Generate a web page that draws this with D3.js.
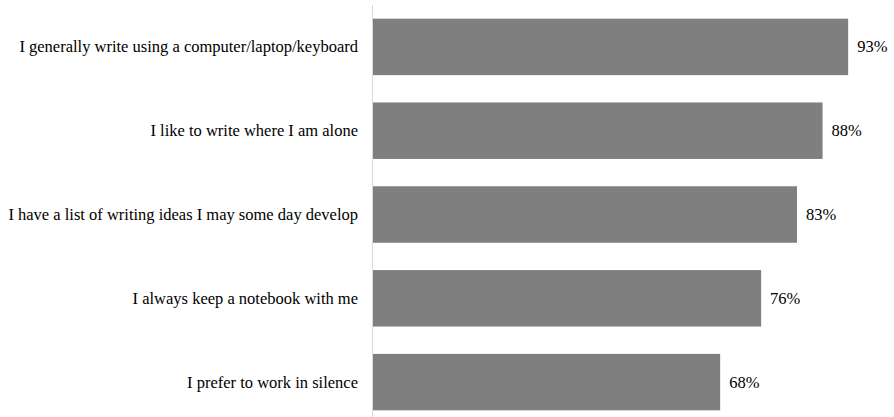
<!DOCTYPE html>
<html>
<head>
<meta charset="utf-8">
<script src="https://cdnjs.cloudflare.com/ajax/libs/d3/7.8.5/d3.min.js"></script>
<style>
  html, body { margin: 0; padding: 0; background: #fff; }
</style>
</head>
<body>
<div id="chart"></div>
<script>
var categories = [
    "I generally write using a computer/laptop/keyboard",
    "I like to write where I am alone",
    "I have a list of writing ideas I may some day develop",
    "I always keep a notebook with me",
    "I prefer to work in silence"
];
var values = [0.93, 0.88, 0.83, 0.76, 0.68];

var W = 894, H = 417;
var axisX = 372;
var fontSize = 16.5;

var svg = d3.select("#chart").append("svg").attr("width", W).attr("height", H);

var xs = d3.scaleLinear().domain([0, 1]).range([axisX, axisX + 512]);
var ys = d3.scaleBand().domain(categories).range([5, 424]).paddingInner(0.326).paddingOuter(0.163);

var rows = categories.map(function(c, i){ return { name: c, value: values[i] }; });

svg.selectAll("rect").data(rows).enter().append("rect")
    .attr("x", xs(0))
    .attr("y", function(d){ return ys(d.name); })
    .attr("width", function(d){ return xs(d.value) - xs(0); })
    .attr("height", ys.bandwidth())
    .attr("fill", "#7f7f7f");

svg.append("line")
    .attr("x1", axisX + 0.5).attr("x2", axisX + 0.5)
    .attr("y1", 5).attr("y2", H)
    .attr("stroke", "#d9d9d9");

// category labels, right aligned left of the axis line
svg.selectAll("text.cat").data(rows).enter().append("text")
    .attr("x", axisX - 14)
    .attr("y", function(d){ return ys(d.name) + ys.bandwidth() / 2 + 5.5; })
    .attr("text-anchor", "end")
    .attr("font-size", fontSize)
    .attr("font-family", "Liberation Serif")
    .text(function(d){ return d.name; });

// value labels after the bar ends
svg.selectAll("text.val").data(rows).enter().append("text")
    .attr("x", function(d){ return xs(d.value) + 9; })
    .attr("y", function(d){ return ys(d.name) + ys.bandwidth() / 2 + 5.5; })
    .attr("font-size", fontSize)
    .attr("font-family", "Liberation Serif")
    .text(function(d){ return Math.round(d.value * 100) + "%"; });
</script>
</body>
</html>
